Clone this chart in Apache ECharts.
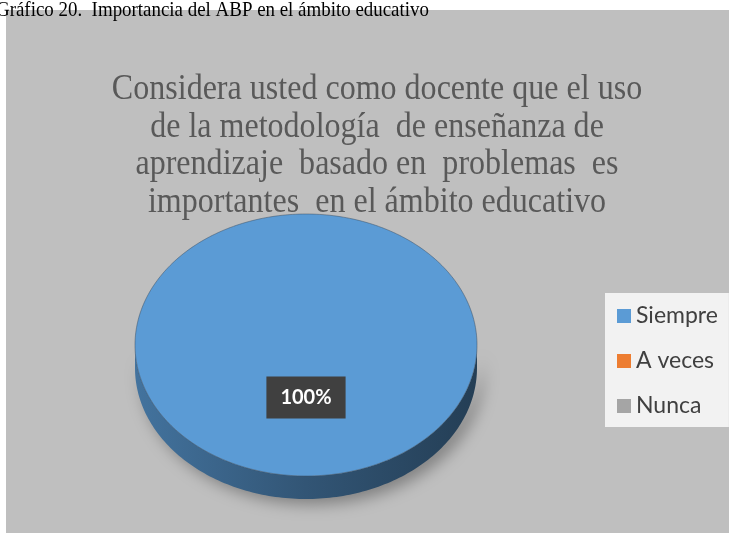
<!DOCTYPE html>
<html>
<head>
<meta charset="utf-8">
<script src="https://cdn.jsdelivr.net/npm/echarts@6/dist/echarts.min.js"></script>
<style>
  html, body { margin: 0; padding: 0; background: #fff; }
  #chart { width: 731px; height: 533px; }
</style>
</head>
<body>
<div id="chart"></div>
<script>
const caption = 'Gráfico 20.  Importancia del ABP en el ámbito educativo';
const titleLines = [
  'Considera usted como docente que el uso',
  'de la metodología  de enseñanza de',
  'aprendizaje  basado en  problemas  es',
  'importantes  en el ámbito educativo'
];
const categories = ['Siempre', 'A veces', 'Nunca'];
const values = [100, 0, 0];
const colors = ['#5b9bd5', '#ed7d31', '#a5a5a5'];

// pie geometry (flattened 3d look)
const cx = 306, cy = 345, rx = 171, ry = 131, depth = 23;

// multiply rgb channels, f < 1 darkens
function shade (hex, f) {
  const n = parseInt(hex.slice(1), 16);
  const r = Math.round(((n >> 16) & 255) * f);
  const g = Math.round(((n >> 8) & 255) * f);
  const b = Math.round((n & 255) * f);
  return 'rgb(' + r + ',' + g + ',' + b + ')';
}

function arc (a0, a1, dy) {
  const pts = [];
  const n = Math.max(2, Math.ceil(Math.abs(a1 - a0) / 0.02));
  for (let i = 0; i <= n; i++) {
    const t = a0 + (a1 - a0) * i / n;
    pts.push([cx + rx * Math.cos(t), cy + ry * Math.sin(t) + dy]);
  }
  return pts;
}

function renderSlice (params, api) {
  const idx = params.seriesIndex;
  const total = values.reduce((a, b) => a + b, 0);
  const before = values.slice(0, idx).reduce((a, b) => a + b, 0);
  const v = api.value(0);
  if (!v) return { type: 'group', children: [] };
  const s = -Math.PI / 2 + before / total * Math.PI * 2;
  const e = s + v / total * Math.PI * 2;
  const full = v >= total;
  const base = colors[idx];
  const children = [];
  // visible front wall
  const a = Math.max(s, 0);
  const b = Math.min(e, Math.PI);
  if (b > a) {
    children.push({
      type: 'polygon',
      shape: { points: arc(a, b, 0).concat(arc(b, a, depth)) },
      style: {
        fill: new echarts.graphic.LinearGradient(0, 0, 1, 0, [
          { offset: 0, color: shade(base, 0.74) },
          { offset: 0.5, color: shade(base, 0.55) },
          { offset: 1, color: shade(base, 0.4) }
        ]),
        shadowBlur: 16,
        shadowColor: 'rgba(0,0,0,0.35)',
        shadowOffsetX: 6,
        shadowOffsetY: 5
      }
    });
  }
  const top = full ? arc(s, e, 0) : [[cx, cy]].concat(arc(s, e, 0));
  children.push({
    type: 'polygon',
    shape: { points: top },
    style: { fill: base, stroke: 'rgba(60,80,100,0.5)', lineWidth: 1 }
  });
  const m = (s + e) / 2;
  children.push({
    type: 'text',
    x: cx + 0.4 * rx * Math.cos(m),
    y: cy + 0.4 * ry * Math.sin(m),
    style: {
      text: Math.round(v / total * 100) + '%',
      align: 'center',
      verticalAlign: 'middle',
      font: 'bold 20px Lato',
      fill: '#fff',
      lineHeight: 22,
      backgroundColor: '#404040',
      padding: [10, 14],
      boxShadowBlur: 6,
      boxShadowColor: 'rgba(0,0,0,0.45)',
      boxShadowOffsetX: 3,
      boxShadowOffsetY: 3
    }
  });
  return { type: 'group', children };
}

const chart = echarts.init(document.getElementById('chart'));
const option = {
  animation: false,
  backgroundColor: '#fff',
  graphic: [
    {
      type: 'rect',
      z: -10,
      shape: { x: 6, y: 10, width: 723, height: 523 },
      style: { fill: '#bfbfbf' }
    },
    {
      type: 'text',
      x: -4,
      y: -1,
      scaleX: 0.86,
      style: {
        text: caption,
        font: '22px "Liberation Serif"',
        fill: '#000',
        verticalAlign: 'top'
      }
    },
    {
      type: 'text',
      x: 377,
      y: 71,
      scaleX: 0.89,
      style: {
        text: titleLines.join('\n'),
        font: '36px "Liberation Serif"',
        lineHeight: 37.5,
        fill: '#595959',
        align: 'center',
        verticalAlign: 'top'
      }
    }
  ],
  legend: {
    orient: 'vertical',
    left: 605,
    top: 293,
    width: 123,
    padding: [11, 11, 9, 12],
    backgroundColor: '#f2f2f2',
    icon: 'rect',
    itemWidth: 14,
    itemHeight: 14,
    itemGap: 21,
    selectedMode: false,
    textStyle: {
      fontFamily: 'Lato',
      fontSize: 23,
      lineHeight: 24,
      color: '#404040'
    },
    data: categories
  },
  series: categories.map((name, i) => ({
    type: 'custom',
    name: name,
    coordinateSystem: 'none',
    itemStyle: { color: colors[i] },
    renderItem: renderSlice,
    data: [values[i]]
  }))
};
chart.setOption(option);
</script>
</body>
</html>
